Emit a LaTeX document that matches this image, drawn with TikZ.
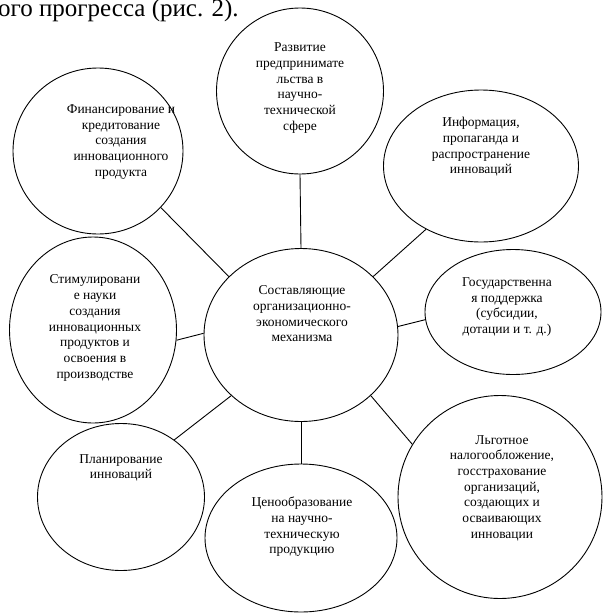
\documentclass[tikz,border=0pt]{standalone}
\usepackage{fontspec}
\setmainfont{Liberation Serif}
\usetikzlibrary{shapes.geometric}
\begin{document}
\begin{tikzpicture}[x=1pt,y=-1pt,
  oval/.style={draw, ellipse, line width=0.9pt, inner sep=0pt},
  txt/.style={align=center, font=\fontsize{13.5}{15.7}\selectfont},
  link/.style={line width=0.9pt}]
\useasboundingbox (0,0) rectangle (603,614);

% строка текста над схемой
\node[anchor=base west, inner sep=0pt, font=\fontsize{25}{28}\selectfont] (head) at (-2,16) {ого прогресса (рис. 2).};

% центральный эллипс
\node[oval, minimum width=194pt, minimum height=173pt] (mech) at (301,335) {};
\node[txt] (mechT) at (302,314) {Составляющие\\организационно-\\экономического\\механизма};

% эллипсы вокруг
\node[oval, minimum width=167pt, minimum height=166pt] (razv) at (300,91) {};
\node[txt] (razvT) at (300,88) {Развитие\\предпринимате\\льства в\\научно-\\технической\\сфере};

\node[oval, minimum width=170pt, minimum height=166pt] (fin) at (98,151) {};
\node[txt] (finT) at (121,142) {Финансирование и\\кредитование\\создания\\инновационного\\продукта};

\node[oval, minimum width=195pt, minimum height=152pt] (info) at (481,166) {};
\node[txt] (infoT) at (481,147) {Информация,\\пропаганда и\\распространение\\инноваций};

\node[oval, minimum width=167pt, minimum height=186pt] (stim) at (93,330) {};
\node[txt] (stimT) at (95,328) {Стимулировани\\е науки\\создания\\инновационных\\продуктов и\\освоения в\\производстве};

\node[oval, minimum width=176pt, minimum height=125pt] (gov) at (513,312) {};
\node[txt] (govT) at (507,307) {Государственна\\я поддержка\\(субсидии,\\дотации и т. д.)};

\node[oval, minimum width=167pt, minimum height=147pt] (plan) at (121,497) {};
\node[txt] (planT) at (121,468) {Планирование\\инноваций};

\node[oval, minimum width=192pt, minimum height=148pt] (price) at (301,538) {};
\node[txt] (priceT) at (302,527) {Ценообразование\\на научно-\\техническую\\продукцию};

\node[oval, minimum width=204pt, minimum height=203pt] (lg) at (500,497) {};
\node[txt] (lgT) at (502,488) {Льготное\\налогообложение,\\госстрахование\\организаций,\\создающих и\\осваивающих\\инновации};

% связи
\draw[link] (razv.south) -- (mech.north);
\draw[link] (fin.-42) -- (mech.141);
\draw[link] (info.-131) -- (mech.39);
\draw[link] (stim.-7) -- (mech.179);
\draw[link] (gov.185) -- (mech.5);
\draw[link] (plan.47) -- (mech.221);
\draw[link] (price.north) -- (mech.south);
\draw[link] (lg.149) -- (mech.-41);

\end{tikzpicture}
\end{document}
